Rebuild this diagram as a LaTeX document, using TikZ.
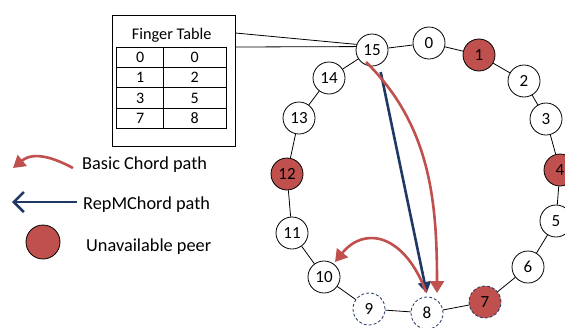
\documentclass[tikz,border=0pt]{standalone}
\usepackage{fontspec}
\setmainfont{Carlito}
\usetikzlibrary{arrows.meta}
\definecolor{peerred}{HTML}{C0504D}
\definecolor{pathnavy}{HTML}{1F3864}
\begin{document}
\begin{tikzpicture}[x=1pt,y=-1pt,
  peer/.style={circle,draw=black,line width=0.8pt,fill=white,minimum size=32pt,inner sep=0pt,font=\fontsize{17}{17}\selectfont},
  downpeer/.style={peer,fill=peerred},
  ghostpeer/.style={peer,draw=pathnavy,densely dashed},
  ringline/.style={line width=0.8pt},
  redpath/.style={draw=peerred,line width=2.6pt,-{Triangle[length=12pt,width=14pt]}},
  bluepath/.style={draw=pathnavy,line width=2.6pt,-{Triangle[length=11pt,width=13pt]}},
  cell/.style={draw=black,line width=1pt,minimum height=20.2pt,inner sep=0pt,font=\fontsize{16}{16}\selectfont},
  legendtext/.style={anchor=west,inner sep=0pt,font=\fontsize{18.3}{18.3}\selectfont}
]
\useasboundingbox[fill=white] (0,0) rectangle (565,327);

% ring peers
\node[peer]      (p0)  at (429,43)  {0};
\node[downpeer]  (p1)  at (479,55)  {1};
\node[peer]      (p2)  at (524,81)  {2};
\node[peer]      (p3)  at (546,119) {3};
\node[downpeer]  (p4)  at (560,170) {4};
\node[peer]      (p5)  at (556,221) {5};
\node[peer]      (p6)  at (528,267) {6};
\node[downpeer,draw=pathnavy,densely dashed] (p7) at (485,302) {7};
\node[ghostpeer] (p8)  at (427,313) {8};
\node[ghostpeer] (p9)  at (369,309) {9};
\node[peer]      (p10) at (324,277) {10};
\node[peer]      (p11) at (292,233) {11};
\node[downpeer]  (p12) at (287,174) {12};
\node[peer]      (p13) at (299,118) {13};
\node[peer]      (p14) at (329,78)  {14};
\node[peer]      (p15) at (372,50)  {15};

\foreach \i [evaluate=\i as \j using {int(mod(\i+1,16))}] in {0,...,15}
  \draw[ringline] (p\i) -- (p\j);

% finger table
\node[draw=black,line width=0.8pt,minimum width=123pt,minimum height=131pt,inner sep=0pt] (ft) at (173.5,80.5) {};
\node[font=\fontsize{16.3}{16.3}\selectfont,inner sep=0pt] (fttitle) at (171.7,35) {Finger Table};
\node[cell,minimum width=46.8pt] (a1) at (140.1,57.6)  {0};
\node[cell,minimum width=62.7pt] (b1) at (194.7,57.6)  {0};
\node[cell,minimum width=46.8pt] (a2) at (140.1,77.8)  {1};
\node[cell,minimum width=62.7pt] (b2) at (194.7,77.8)  {2};
\node[cell,minimum width=46.8pt] (a3) at (140.1,98.0)  {3};
\node[cell,minimum width=62.7pt] (b3) at (194.7,98.0)  {5};
\node[cell,minimum width=46.8pt] (a4) at (140.1,118.2) {7};
\node[cell,minimum width=62.7pt] (b4) at (194.7,118.2) {8};

\draw[line width=0.8pt] ([yshift=47.5pt]ft.east) -- (p15.160);
\draw[line width=0.8pt] ([yshift=33.5pt]ft.east) -- (p15.168);

% paths
\draw[bluepath] ([xshift=8.7pt,yshift=-22pt]p15.center) -- ([xshift=-0.3pt,yshift=20pt]p8.center);
\draw[redpath] ([xshift=-6pt,yshift=-12pt]p15.center) .. controls (430,125) and (437,200) .. ([xshift=10pt,yshift=20pt]p8.center);
\draw[redpath] ([xshift=-1pt,yshift=21pt]p8.center) .. controls (405,235) and (365,225) .. ([xshift=11pt,yshift=15pt]p10.center);

% legend
\coordinate (lr1) at (73,168);
\coordinate (lr2) at (13,168);
\coordinate (lb1) at (77,202);
\coordinate (lb2) at (12,202);
\draw[redpath] (lr1) .. controls (58,160) and (35,150) .. (lr2);
\draw[draw=pathnavy,line width=2.6pt,-{Straight Barb[length=10pt,width=20pt]}] (lb1) -- (lb2);
\node[circle,draw=black,line width=0.8pt,fill=peerred,minimum size=34pt,inner sep=0pt] (lp) at (43,242) {};
\node[legendtext] (t1) at (82,165) {Basic Chord path};
\node[legendtext] (t2) at (83,205) {RepMChord path};
\node[legendtext] (t3) at (86,247) {Unavailable peer};
\end{tikzpicture}
\end{document}
